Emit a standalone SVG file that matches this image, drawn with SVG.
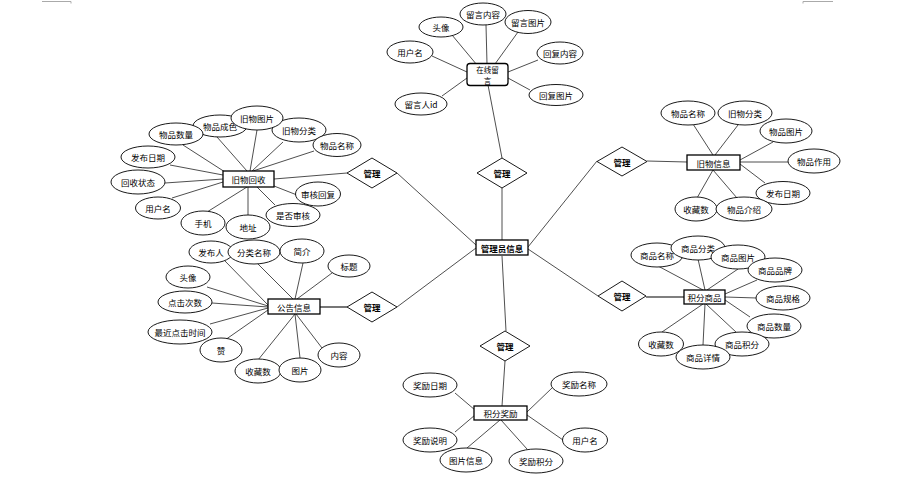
<svg xmlns="http://www.w3.org/2000/svg" width="909" height="485" viewBox="0 0 909 485">
<style>
text{font-family:"Noto Sans CJK SC","Liberation Sans",sans-serif;font-size:8.5px;fill:#000;text-anchor:middle;dominant-baseline:central}
.b{font-weight:bold}
.sm{font-size:7.5px}
.ln{stroke:#222;stroke-width:0.8;fill:none}
.lt{stroke:#555;stroke-width:1.6;fill:none}
ellipse{fill:#fff;stroke:#000;stroke-width:0.9}
.ent{fill:#fff;stroke:#000;stroke-width:1.3}
.rel{fill:#fff;stroke:#000;stroke-width:0.9}
.mk{stroke:#aaa;stroke-width:1;fill:none}
</style>
<rect width="909" height="485" fill="#fff"/>
<g id="marks">
<path class="mk" d="M42,1.5H71V3.5M833,1.5H803V3.5"/>
</g>
<g id="connectors">
<line class="ln" x1="502" y1="188" x2="502" y2="240"/>
<line class="ln" x1="488" y1="85" x2="502" y2="158"/>
<line class="ln" x1="397" y1="173" x2="476" y2="245"/>
<line class="ln" x1="397" y1="307" x2="476" y2="248"/>
<line class="ln" x1="597" y1="161" x2="528" y2="247"/>
<line class="ln" x1="598" y1="296" x2="528" y2="249"/>
<line class="ln" x1="502" y1="256" x2="506" y2="331"/>
<line class="ln" x1="274" y1="179" x2="347" y2="173"/>
<line class="lt" x1="320" y1="307" x2="347" y2="307"/>
<line class="ln" x1="647" y1="161" x2="687" y2="162"/>
<line class="lt" x1="646" y1="297" x2="684" y2="297"/>
<line class="ln" x1="505" y1="361" x2="502" y2="406"/>
<line class="ln" x1="452" y1="35" x2="477" y2="65"/>
<line class="ln" x1="486" y1="25" x2="487" y2="64"/>
<line class="ln" x1="518" y1="32" x2="495" y2="64"/>
<line class="ln" x1="432" y1="56" x2="467" y2="72"/>
<line class="ln" x1="442" y1="96" x2="467" y2="78"/>
<line class="ln" x1="538" y1="60" x2="508" y2="72"/>
<line class="ln" x1="530" y1="90" x2="508" y2="78"/>
<line class="ln" x1="183" y1="145" x2="225" y2="172"/>
<line class="ln" x1="217" y1="137" x2="247" y2="171"/>
<line class="ln" x1="257" y1="130" x2="250" y2="171"/>
<line class="ln" x1="283" y1="142" x2="252" y2="171"/>
<line class="ln" x1="314" y1="151" x2="253" y2="171"/>
<line class="ln" x1="170" y1="165" x2="223" y2="175"/>
<line class="ln" x1="165" y1="183" x2="223" y2="179"/>
<line class="ln" x1="172" y1="198" x2="223" y2="182"/>
<line class="ln" x1="207" y1="212" x2="247" y2="187"/>
<line class="ln" x1="248" y1="187" x2="248" y2="215"/>
<line class="ln" x1="274" y1="186" x2="297" y2="195"/>
<line class="ln" x1="257" y1="187" x2="275" y2="205"/>
<line class="ln" x1="225" y1="261" x2="268" y2="305"/>
<line class="ln" x1="257" y1="263" x2="293" y2="299"/>
<line class="ln" x1="303" y1="263" x2="295" y2="299"/>
<line class="ln" x1="332" y1="273" x2="297" y2="299"/>
<line class="ln" x1="207" y1="287" x2="268" y2="306"/>
<line class="ln" x1="212" y1="303" x2="268" y2="307"/>
<line class="ln" x1="210" y1="324" x2="268" y2="308"/>
<line class="ln" x1="225" y1="340" x2="268" y2="310"/>
<line class="ln" x1="258" y1="360" x2="295" y2="314"/>
<line class="ln" x1="300" y1="358" x2="295" y2="314"/>
<line class="ln" x1="322" y1="348" x2="296" y2="314"/>
<line class="ln" x1="693" y1="124" x2="713" y2="155"/>
<line class="ln" x1="738" y1="125" x2="715" y2="155"/>
<line class="ln" x1="773" y1="142" x2="740" y2="160"/>
<line class="ln" x1="788" y1="162" x2="740" y2="162"/>
<line class="ln" x1="765" y1="183" x2="740" y2="164"/>
<line class="ln" x1="697" y1="198" x2="713" y2="170"/>
<line class="ln" x1="737" y1="198" x2="713" y2="170"/>
<line class="ln" x1="658" y1="266" x2="703" y2="290"/>
<line class="ln" x1="698" y1="259" x2="705" y2="290"/>
<line class="ln" x1="738" y1="269" x2="707" y2="290"/>
<line class="ln" x1="757" y1="280" x2="725" y2="294"/>
<line class="ln" x1="757" y1="298" x2="725" y2="297"/>
<line class="ln" x1="750" y1="317" x2="725" y2="300"/>
<line class="ln" x1="737" y1="333" x2="706" y2="304"/>
<line class="ln" x1="703" y1="345" x2="705" y2="304"/>
<line class="ln" x1="662" y1="332" x2="703" y2="304"/>
<line class="ln" x1="455" y1="393" x2="475" y2="410"/>
<line class="ln" x1="552" y1="388" x2="527" y2="412"/>
<line class="ln" x1="455" y1="432" x2="475" y2="415"/>
<line class="ln" x1="563" y1="440" x2="527" y2="415"/>
<line class="ln" x1="467" y1="448" x2="500" y2="420"/>
<line class="ln" x1="527" y1="449" x2="501" y2="420"/>
</g>
<g id="admin"><rect class="ent" x="476" y="240" width="52" height="15" stroke-width="1.8"/><text class="b" x="502" y="247.5">管理员信息</text></g>
<g id="rel-top"><polygon class="rel" points="502,158 527,173 502,188 477,173"/><text class="b" x="502" y="173">管理</text></g>
<g id="rel-ul"><polygon class="rel" points="372,158 397,173 372,188 347,173"/><text class="b" x="372" y="173">管理</text></g>
<g id="rel-ur"><polygon class="rel" points="622,147 647,161.5 622,176 597,161.5"/><text class="b" x="622" y="161.5">管理</text></g>
<g id="rel-ll"><polygon class="rel" points="372,292 397,307 372,322 347,307"/><text class="b" x="372" y="307">管理</text></g>
<g id="rel-lr"><polygon class="rel" points="622,281 646,296 622,311 598,296"/><text class="b" x="622" y="296">管理</text></g>
<g id="rel-bot"><polygon class="rel" points="505,331 530,346 505,361 480,346"/><text class="b" x="505" y="346">管理</text></g>

<g id="msg"><rect class="ent" x="467" y="63.5" width="41" height="22" rx="3"/><text class="sm" x="487.5" y="69">在线留</text><text class="sm" x="487.5" y="80.3">言</text></g>
<g id="msg-a1"><ellipse cx="441" cy="27" rx="22" ry="10"/><text x="441" y="27">头像</text></g>
<g id="msg-a2"><ellipse cx="483" cy="14" rx="23" ry="11"/><text x="483" y="14">留言内容</text></g>
<g id="msg-a3"><ellipse cx="528" cy="22" rx="23" ry="11.5"/><text x="528" y="22">留言图片</text></g>
<g id="msg-a4"><ellipse cx="410" cy="52" rx="23" ry="11"/><text x="410" y="52">用户名</text></g>
<g id="msg-a5"><ellipse cx="421" cy="104" rx="26" ry="11"/><text x="421" y="104">留言人id</text></g>
<g id="msg-a6"><ellipse cx="560" cy="53" rx="23" ry="11"/><text x="560" y="53">回复内容</text></g>
<g id="msg-a7"><ellipse cx="556" cy="95" rx="27" ry="10.5"/><text x="556" y="95">回复图片</text></g>

<g id="recy"><rect class="ent" x="223" y="171" width="51" height="16"/><text x="248.5" y="179">旧物回收</text></g>
<g id="recy-a2"><ellipse cx="220" cy="126" rx="27" ry="11"/><text x="220" y="126">物品成色</text></g>
<g id="recy-a1"><ellipse cx="176" cy="134" rx="27" ry="11"/><text x="176" y="134">物品数量</text></g>
<g id="recy-a4"><ellipse cx="299" cy="130" rx="27" ry="12"/><text x="299" y="130">旧物分类</text></g>
<g id="recy-a3"><ellipse cx="257" cy="118" rx="26" ry="12"/><text x="257" y="118">旧物图片</text></g>
<g id="recy-a5"><ellipse cx="337" cy="145" rx="24" ry="11.5"/><text x="337" y="145">物品名称</text></g>
<g id="recy-a6"><ellipse cx="148" cy="157" rx="27" ry="11"/><text x="148" y="157">发布日期</text></g>
<g id="recy-a7"><ellipse cx="138" cy="182" rx="27" ry="12"/><text x="138" y="182">回收状态</text></g>
<g id="recy-a8"><ellipse cx="158" cy="208" rx="22.5" ry="11"/><text x="158" y="208">用户名</text></g>
<g id="recy-a9"><ellipse cx="203" cy="223" rx="22" ry="12"/><text x="203" y="223">手机</text></g>
<g id="recy-a10"><ellipse cx="248" cy="227" rx="22" ry="12"/><text x="248" y="227">地址</text></g>
<g id="recy-a11"><ellipse cx="318" cy="194" rx="22.5" ry="12"/><text x="318" y="194">审核回复</text></g>
<g id="recy-a12"><ellipse cx="293" cy="215" rx="27" ry="11.5"/><text x="293" y="215">是否审核</text></g>

<g id="notice"><rect class="ent" x="268" y="299" width="52" height="15"/><text x="294" y="306.5">公告信息</text></g>
<g id="not-a1"><ellipse cx="211" cy="252" rx="22" ry="11"/><text x="211" y="252">发布人</text></g>
<g id="not-a2"><ellipse cx="254" cy="252" rx="26" ry="12"/><text x="254" y="252">分类名称</text></g>
<g id="not-a3"><ellipse cx="302" cy="251" rx="22" ry="12"/><text x="302" y="251">简介</text></g>
<g id="not-a4"><ellipse cx="349" cy="266" rx="21" ry="11"/><text x="349" y="266">标题</text></g>
<g id="not-a5"><ellipse cx="188" cy="277" rx="22" ry="11"/><text x="188" y="277">头像</text></g>
<g id="not-a6"><ellipse cx="185" cy="302" rx="27" ry="11"/><text x="185" y="302">点击次数</text></g>
<g id="not-a7"><ellipse cx="180" cy="332" rx="32" ry="12"/><text x="180" y="332">最近点击时间</text></g>
<g id="not-a8"><ellipse cx="221" cy="350" rx="21" ry="12"/><text x="221" y="350">赞</text></g>
<g id="not-a9"><ellipse cx="258" cy="371" rx="23" ry="12"/><text x="258" y="371">收藏数</text></g>
<g id="not-a10"><ellipse cx="300" cy="370" rx="21" ry="12"/><text x="300" y="370">图片</text></g>
<g id="not-a11"><ellipse cx="339" cy="355" rx="21" ry="12"/><text x="339" y="355">内容</text></g>

<g id="olditem"><rect class="ent" x="687" y="155" width="53" height="15"/><text x="713.5" y="162.5">旧物信息</text></g>
<g id="old-a1"><ellipse cx="688" cy="113" rx="27" ry="12"/><text x="688" y="113">物品名称</text></g>
<g id="old-a2"><ellipse cx="745" cy="113" rx="27" ry="12"/><text x="745" y="113">旧物分类</text></g>
<g id="old-a3"><ellipse cx="786" cy="131" rx="26" ry="12"/><text x="786" y="131">物品图片</text></g>
<g id="old-a4"><ellipse cx="814" cy="161" rx="26" ry="12"/><text x="814" y="161">物品作用</text></g>
<g id="old-a5"><ellipse cx="783" cy="193" rx="27" ry="11.5"/><text x="783" y="193">发布日期</text></g>
<g id="old-a6"><ellipse cx="696" cy="209" rx="21" ry="12"/><text x="696" y="209">收藏数</text></g>
<g id="old-a7"><ellipse cx="744" cy="209" rx="28" ry="12"/><text x="744" y="209">物品介绍</text></g>

<g id="goods"><rect class="ent" x="684" y="290" width="41" height="14"/><text x="704.5" y="297">积分商品</text></g>
<g id="g-a1"><ellipse cx="657" cy="255" rx="26" ry="12"/><text x="657" y="255">商品名称</text></g>
<g id="g-a2"><ellipse cx="698" cy="248" rx="27" ry="12"/><text x="698" y="248">商品分类</text></g>
<g id="g-a3"><ellipse cx="738" cy="257" rx="27" ry="12"/><text x="738" y="257">商品图片</text></g>
<g id="g-a4"><ellipse cx="775" cy="270" rx="27" ry="12"/><text x="775" y="270">商品品牌</text></g>
<g id="g-a5"><ellipse cx="783" cy="298" rx="27" ry="12"/><text x="783" y="298">商品规格</text></g>
<g id="g-a6"><ellipse cx="774" cy="326" rx="27" ry="12"/><text x="774" y="326">商品数量</text></g>
<g id="g-a9"><ellipse cx="661" cy="344" rx="22.5" ry="12"/><text x="661" y="344">收藏数</text></g>
<g id="g-a7"><ellipse cx="742" cy="344" rx="27" ry="12"/><text x="742" y="344">商品积分</text></g>
<g id="g-a8"><ellipse cx="703" cy="357" rx="27" ry="12"/><text x="703" y="357">商品详情</text></g>

<g id="reward"><rect class="ent" x="474" y="406" width="53" height="14"/><text x="500.5" y="413">积分奖励</text></g>
<g id="r-a1"><ellipse cx="430" cy="385" rx="27" ry="12"/><text x="430" y="385">奖励日期</text></g>
<g id="r-a2"><ellipse cx="579" cy="384" rx="28" ry="12"/><text x="579" y="384">奖励名称</text></g>
<g id="r-a3"><ellipse cx="430" cy="440" rx="27" ry="12"/><text x="430" y="440">奖励说明</text></g>
<g id="r-a4"><ellipse cx="585" cy="440" rx="22.5" ry="12"/><text x="585" y="440">用户名</text></g>
<g id="r-a5"><ellipse cx="466" cy="460" rx="26" ry="12"/><text x="466" y="460">图片信息</text></g>
<g id="r-a6"><ellipse cx="536" cy="461" rx="27" ry="12"/><text x="536" y="461">奖励积分</text></g>
</svg>
